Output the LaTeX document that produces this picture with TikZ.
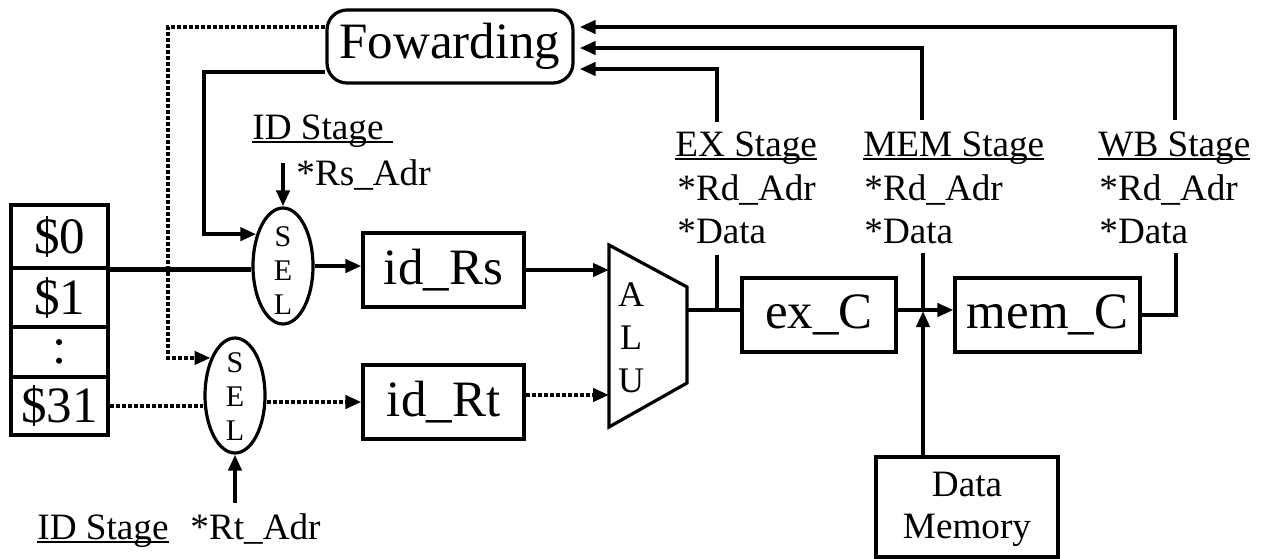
\documentclass[tikz,border=0pt]{standalone}
\usepackage{fontspec}
\setmainfont{Liberation Serif}
\usetikzlibrary{arrows.meta,shapes.geometric}
\newsavebox\ulbox
\newcommand\myul[1]{\sbox\ulbox{#1}\rlap{\rule[-2.2pt]{\wd\ulbox}{1pt}}\usebox\ulbox}
\begin{document}
\begin{tikzpicture}[x=0.5pt,y=-0.5pt,
  box/.style={draw,line width=1.6pt,inner sep=0pt},
  big/.style={font=\fontsize{25.5}{30}\selectfont},
  lbl/.style={anchor=base west,inner sep=0pt,font=\fontsize{18.6}{22}\selectfont},
  conn/.style={line width=2.2pt},
  arr/.style={conn,-{Triangle[length=8pt,width=6.5pt]}},
  dots/.style={line width=2.4pt,dash pattern=on 2pt off 1pt},
  darr/.style={dots,-{Triangle[length=8pt,width=6.5pt]}},
  seltxt/.style={align=center,inner sep=0pt,font=\fontsize{15}{17}\selectfont}]
\useasboundingbox (0,0) rectangle (1264,558);

% register file
\node[box,big,minimum width=48.5pt,minimum height=31.5pt] (reg0) at (59.5,236.5) {\$0};
\node[box,big,minimum width=48.5pt,minimum height=29.5pt] (reg1) at (59.5,297.5) {\$1};
\node[box,big,minimum width=48.5pt,minimum height=25pt] (regd) at (59.5,352) {:};
\node[box,big,minimum width=48.5pt,minimum height=29pt] (reg31) at (59.5,406) {\$31};

% forwarding unit
\node[box,big,rounded corners=10pt,minimum width=123pt,minimum height=36.5pt] (fwd) at (450,46.5) {Fowarding};
\coordinate (fwdR) at ([xshift=2.5pt]fwd.east);

% selectors
\node[box,ellipse,minimum width=30pt,minimum height=58pt] (sel1) at (283,266) {};
\node[seltxt] (sel1t) at (283,271) {S\\E\\L};
\node[box,ellipse,minimum width=30pt,minimum height=57.5pt] (sel2) at (235,395.5) {};
\node[seltxt] (sel2t) at (235,397) {S\\E\\L};

% pipeline registers
\node[box,big,minimum width=80.5pt,minimum height=37pt] (idrs) at (443.5,270) {id\_Rs};
\node[box,big,minimum width=80.5pt,minimum height=37pt] (idrt) at (443.5,402) {id\_Rt};
\node[box,big,minimum width=77pt,minimum height=37pt] (exc) at (819,315) {ex\_C};
\node[box,big,minimum width=92.5pt,minimum height=37pt] (memc) at (1047.5,315) {mem\_C};
\node[box,align=center,minimum width=91pt,minimum height=50pt,font=\fontsize{18.6}{21}\selectfont] (dmem) at (967,507) {\strut Data\\Memory};

% ALU
\coordinate (aluA) at (609,245);
\coordinate (aluB) at (687,287);
\coordinate (aluC) at (687,383);
\coordinate (aluD) at (609,427);
\draw[line width=1.6pt,line join=miter] (aluA) -- (aluB) -- (aluC) -- (aluD) -- cycle;
\node[align=center,inner sep=0pt,font=\fontsize{18}{21.5}\selectfont] (alut) at (631,338) {A\\L\\U};
\coordinate (aluIn1) at (609,269);
\coordinate (aluIn2) at (609,395);
\coordinate (aluOut) at (687,310);

% labels
\node[lbl] (idst1) at (252,139) {\myul{ID Stage\ }};
\node[lbl] (rsadr) at (296,185) {*Rs\_Adr};
\node[lbl] (idst2) at (37,539) {\myul{ID Stage}};
\node[lbl] (rtadr) at (190,539) {*Rt\_Adr};
\node[lbl] (exs) at (675,156) {\myul{EX Stage}};
\node[lbl] (exra) at (677,200) {*Rd\_Adr};
\node[lbl] (exd) at (677,243) {*Data};
\node[lbl] (mems) at (863,156) {\myul{MEM Stage}};
\node[lbl] (memra) at (864,200) {*Rd\_Adr};
\node[lbl] (memd) at (864,243) {*Data};
\node[lbl] (wbs) at (1098,156) {\myul{WB Stage}};
\node[lbl] (wbra) at (1099,200) {*Rd\_Adr};
\node[lbl] (wbd) at (1099,243) {*Data};

% coordinates for connectors
\coordinate (dotC) at (168,27);
\coordinate (solC) at (204,72);
\coordinate (rsIn) at (283,163);
\coordinate (rtIn) at (235,503);
\coordinate (exTop) at (717,122);
\coordinate (exC) at (717,69);
\coordinate (exBot) at (717,255);
\coordinate (memTop) at (922,120);
\coordinate (memC) at (922,48);
\coordinate (memBot) at (923,253);
\coordinate (memJ) at (923,310);
\coordinate (wbTop) at (1175,120);
\coordinate (wbC) at (1175,27);
\coordinate (wbBot) at (1176,253);

% datapath
\draw[conn] (reg0.south east) -- (reg0.south east -| sel1.west);
\draw[dots] (reg31.east) -- (reg31.east -| sel2.west);
\draw[arr] (sel1.east) -- (sel1.east -| idrs.west);
\draw[darr] (idrt.west -| sel2.east) -- (idrt.west);
\draw[arr] (idrs.east) -- (idrs.east -| aluIn1);
\draw[darr] (idrt.east |- aluIn2) -- (aluIn2);
\draw[conn] (aluOut) -- (aluOut -| exc.west);
\draw[arr] (exc.east |- aluOut) -- (aluOut -| memc.west);
\draw[arr] (memJ |- dmem.north) -- ([yshift=-0.5pt]memJ);
\draw[conn] (exBot) -- (exBot |- aluOut);
\draw[conn] (memBot) -- (memJ);
\draw[conn] (memc.east) -| (wbBot);

% selector controls
\draw[arr] (rsIn) -- (sel1.north);
\draw[arr] (rtIn) -- (sel2.south);

% forwarding paths
\draw[darr] (fwd.west |- dotC) -- (dotC) |- (sel2.123);
\draw[arr] (fwd.west |- solC) -- (solC) |- (sel1.130);
\draw[arr] (exTop) -- (exC) -- (fwdR |- exC);
\draw[arr] (memTop) -- (memC) -- (fwdR |- memC);
\draw[arr] (wbTop) -- (wbC) -- (fwdR |- wbC);
\end{tikzpicture}
\end{document}
